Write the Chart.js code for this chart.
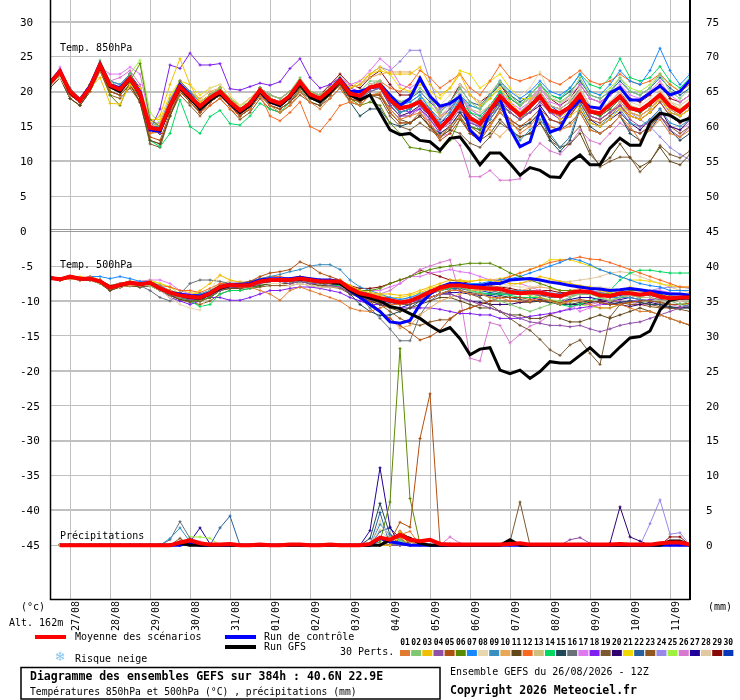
<!DOCTYPE html>
<html>
<head>
<meta charset="utf-8">
<script src="https://cdn.jsdelivr.net/npm/chart.js@4.4.1/dist/chart.umd.min.js"></script>
<style>
  html, body { margin: 0; padding: 0; background: #fff; }
  canvas { display: block; }
</style>
</head>
<body>
<canvas id="gefs" width="740" height="700"></canvas>
<script>
// GEFS ensemble, 26/08/2026 12Z, one step = 6h (65 steps = 384h)
const dayLabels = ["27/08","28/08","29/08","30/08","31/08","01/09","02/09","03/09","04/09","05/09","06/09","07/09","08/09","09/09","10/09","11/09"];
const dayIndex = [2,6,10,14,18,22,26,30,34,38,42,46,50,54,58,62];
const leftTicks = [30,25,20,15,10,5,0,-5,-10,-15,-20,-25,-30,-35,-40,-45];
const rainBase = -45; // 0 mm sits on the -45 line, right axis = left + 45

const pertColors = ["#e07b30","#80c870","#f0c000","#9050a8","#b05010","#5a8a00","#1888ff","#e8d8b0","#3890c0","#e8a858",
  "#604818","#f86820","#d0c080","#00d860","#204858","#687078","#e078f0","#8020f0","#7a5830","#300070",
  "#f0d800","#2860a0","#905820","#9888e8","#a0f040","#d878d0","#200098","#e0c8a0","#880808","#0838b8"];

// 850 hPa temperature (°C)
const mean850 = [21.2,22.9,20.0,18.7,20.6,23.8,20.9,20.3,21.9,19.7,14.8,14.6,18.0,20.7,19.3,17.9,19.1,20.0,18.5,17.3,18.3,20.2,18.8,18.3,19.4,21.4,19.6,19.0,20.2,21.6,19.7,19.4,20.6,20.9,18.8,17.6,17.9,18.5,16.9,14.8,16.2,18.2,16.2,15.4,17.3,19.3,17.9,16.6,17.9,19.3,17.3,16.9,17.8,19.5,17.1,16.9,18.1,19.3,17.6,17.3,18.3,19.5,17.9,17.1,18.3];
const ctrl850 = [21.3,23.0,20.0,18.8,20.8,24.0,21.0,20.5,22.0,20.0,14.5,14.3,18.0,21.0,19.5,17.5,18.8,20.0,18.3,17.0,18.0,20.0,18.5,18.0,19.3,21.3,19.3,18.8,20.0,21.8,20.0,20.0,20.5,21.0,19.5,18.0,19.0,21.9,19.3,17.9,18.3,19.3,14.5,13.0,17.3,19.0,14.7,12.1,12.8,17.3,14.2,14.7,17.3,18.8,17.8,17.6,19.8,20.6,18.8,18.8,19.8,20.8,19.5,20.0,21.6];
const gfs850 = [21.2,22.8,19.8,18.6,20.5,23.6,20.7,20.0,21.8,19.5,14.8,14.5,17.8,20.5,19.0,17.5,18.7,19.7,18.3,17.0,18.0,20.0,18.5,18.0,19.2,21.0,19.2,18.5,19.8,21.5,19.5,18.8,19.5,17.0,14.5,13.8,14.0,13.0,12.8,11.6,13.3,13.5,11.6,9.5,11.2,11.2,9.7,8.0,9.1,8.7,7.8,7.7,9.9,10.9,9.5,9.5,11.9,13.3,12.3,12.3,15.5,16.9,16.6,15.7,16.2];
const pert850 = [
  [21.0,22.5,19.5,18.5,20.5,23.0,20.5,20.0,21.5,19.5,14.0,14.2,17.5,20.0,19.0,17.5,18.5,19.5,18.0,16.8,17.5,19.5,18.0,17.0,18.0,20.0,18.5,17.5,19.0,20.5,18.5,18.0,19.5,19.8,17.5,16.0,16.5,17.0,15.5,13.5,15.0,16.5,14.5,13.5,15.0,17.0,16.0,14.0,15.0,17.0,15.0,14.5,15.0,17.0,14.5,14.0,15.0,16.5,15.0,13.0,14.5,16.0,14.0,13.5,14.5],
  [21.5,23.0,20.0,19.0,21.0,24.5,21.5,20.5,22.5,20.0,15.5,15.0,18.5,21.0,19.5,18.0,19.5,20.5,19.0,17.5,18.5,20.5,19.5,19.0,20.0,22.0,20.0,19.5,20.5,22.0,20.0,20.0,21.5,21.5,19.5,18.5,19.0,20.5,19.0,17.0,18.5,20.5,18.5,17.5,19.5,21.5,19.5,18.0,19.5,21.0,19.0,18.5,19.5,22.0,19.5,19.0,20.0,22.0,20.0,19.5,20.5,22.5,20.0,19.0,20.5],
  [21.0,22.5,20.0,18.5,20.5,22.0,18.3,18.2,21.0,19.5,15.5,16.5,21.0,24.7,21.0,18.5,19.5,20.5,19.0,17.5,18.5,20.5,19.0,18.5,19.5,21.5,20.0,19.0,20.0,22.0,20.5,21.0,22.5,23.5,22.5,22.5,22.5,23.5,21.0,19.5,20.5,22.5,19.5,18.0,19.0,20.5,18.5,17.0,18.0,19.5,17.5,16.0,16.5,17.5,15.5,15.0,16.0,17.5,16.5,16.0,17.0,19.0,17.0,16.5,17.5],
  [21.5,23.0,19.5,18.5,20.5,23.5,21.0,20.0,22.0,20.0,14.5,14.0,17.5,20.5,19.0,17.5,18.5,19.5,18.0,17.0,18.0,20.0,18.5,18.0,19.0,21.0,19.5,18.5,20.0,21.5,19.5,19.0,20.0,20.5,18.0,16.5,16.5,18.0,16.0,14.5,15.5,17.5,15.5,15.0,16.5,18.0,17.0,16.0,17.0,18.5,17.0,16.5,17.5,19.0,16.5,16.0,17.0,18.0,16.0,15.0,15.5,16.5,14.5,13.5,15.0],
  [21.0,22.5,19.5,18.5,20.0,23.0,20.0,19.5,21.0,19.0,13.5,13.0,17.0,20.0,18.5,17.0,18.5,19.5,18.0,16.5,17.5,19.5,18.0,17.5,18.5,20.5,19.0,18.5,19.5,21.0,19.0,18.5,19.5,19.5,17.0,15.5,15.5,17.0,15.0,13.0,14.0,16.0,14.0,13.0,15.0,17.5,16.0,15.0,16.0,17.5,16.0,15.5,16.5,18.5,16.0,15.5,16.5,18.0,16.5,16.0,17.0,18.5,16.5,15.5,16.5],
  [21.0,23.0,20.0,19.0,21.0,24.0,19.5,18.0,21.5,24.0,16.0,15.0,18.5,21.0,19.5,18.0,19.5,20.5,18.5,17.5,18.5,20.5,19.0,18.5,19.5,21.5,19.5,19.0,20.5,21.5,19.0,18.0,18.5,18.0,15.5,14.0,12.0,11.8,11.5,11.3,13.0,16.0,15.0,14.5,16.5,18.5,17.0,16.0,17.5,19.0,17.5,17.0,18.0,19.5,17.0,16.5,17.5,19.0,17.5,17.0,18.0,19.5,18.0,17.0,18.0],
  [21.5,23.0,20.0,18.5,20.5,23.5,21.0,20.5,22.0,20.0,15.0,15.0,18.0,21.0,19.5,18.0,19.0,20.0,18.5,17.5,18.5,20.5,19.0,18.5,19.5,21.5,20.0,19.0,20.5,22.0,20.0,19.5,20.5,21.0,19.0,18.0,18.5,19.5,17.5,15.5,17.0,19.5,18.0,17.5,19.5,21.5,20.0,19.0,20.0,21.5,20.0,19.5,20.5,22.5,20.0,19.5,21.0,23.0,21.5,21.0,23.0,26.2,23.0,21.0,22.5],
  [21.0,22.0,19.5,18.5,20.0,23.0,20.5,20.0,21.5,19.5,14.5,14.5,18.0,20.5,19.0,18.5,20.5,21.0,19.5,18.0,19.0,20.5,19.0,18.5,19.5,21.0,19.5,19.0,20.0,21.5,20.0,19.5,21.0,21.5,19.5,18.5,19.0,20.5,19.5,18.0,19.5,21.0,19.5,18.5,20.0,21.5,20.0,19.5,20.5,22.8,19.5,18.5,19.0,20.5,18.0,17.5,18.5,20.0,18.5,18.0,19.0,20.5,18.5,18.0,19.0],
  [21.5,23.0,20.0,19.0,20.5,23.5,21.5,21.0,22.5,20.0,15.0,14.5,18.0,21.0,20.0,18.5,19.5,20.0,18.5,17.5,18.5,20.0,18.5,18.0,19.5,21.0,19.5,19.0,20.0,21.5,19.5,19.0,20.5,21.0,18.5,17.0,17.5,19.0,17.0,15.0,16.5,19.0,16.0,14.5,16.0,18.0,15.0,13.0,14.5,16.0,14.0,12.0,13.5,18.0,15.5,15.0,16.5,17.5,15.5,15.0,16.0,17.5,15.5,15.0,16.0],
  [21.0,22.5,19.5,18.5,20.0,23.0,20.5,20.0,21.5,19.5,15.0,15.5,18.5,21.0,20.0,19.0,20.0,20.5,19.0,17.5,18.5,20.0,19.0,18.5,19.5,21.5,20.0,19.5,20.5,22.0,20.5,21.0,22.0,22.5,22.8,22.8,22.8,22.0,19.5,16.5,17.0,17.5,16.5,15.5,14.5,13.5,15.0,16.0,17.0,18.5,17.0,16.5,17.5,18.5,16.5,16.0,17.0,18.5,17.0,16.5,17.5,19.0,17.5,16.5,17.5],
  [20.5,22.0,19.0,18.0,20.0,23.0,20.0,19.5,21.0,18.5,13.0,12.5,16.5,20.0,18.5,17.0,18.5,19.5,18.0,16.5,17.5,19.5,18.0,17.5,18.5,20.0,18.5,18.0,19.5,21.0,19.0,18.5,19.5,19.5,17.5,16.0,15.5,16.5,15.0,13.5,14.5,16.5,14.0,13.0,14.0,16.0,14.5,13.5,14.0,15.5,13.5,12.0,12.5,14.0,11.0,9.5,10.5,12.5,10.5,9.2,10.0,12.0,10.0,9.5,11.0],
  [21.0,22.5,19.5,18.5,20.5,23.5,20.5,20.0,21.5,19.5,14.0,14.5,18.0,20.0,18.5,17.0,18.0,19.0,17.5,16.5,17.5,19.5,16.5,15.8,17.0,18.5,15.0,14.3,16.0,18.0,18.5,19.0,20.5,21.5,20.5,20.0,21.0,23.0,22.0,20.5,21.5,22.5,20.5,19.5,21.5,23.8,22.0,21.5,22.0,22.5,21.5,21.0,22.0,23.0,21.5,21.0,21.5,22.5,21.5,21.0,21.5,22.5,21.0,20.0,21.0],
  [21.0,22.5,20.0,19.0,20.5,23.5,21.0,20.5,22.0,20.0,15.0,14.5,18.0,20.5,19.0,17.5,18.5,19.5,18.5,17.5,18.0,20.0,19.0,18.5,19.5,21.0,19.5,19.0,20.0,21.5,19.5,19.0,20.5,21.0,19.0,18.0,18.0,18.5,17.0,15.5,17.0,19.0,17.5,17.0,18.0,19.5,18.0,17.0,18.5,20.0,18.0,17.5,18.5,20.0,17.5,17.0,18.0,19.5,18.0,17.5,18.5,20.0,18.5,17.5,18.5],
  [21.0,22.5,20.0,18.5,20.5,23.5,20.5,20.0,21.5,19.0,13.0,12.1,14.0,18.8,15.0,14.0,16.4,17.3,15.4,15.2,16.5,18.3,17.5,17.0,18.5,20.5,19.0,18.5,19.5,21.0,19.5,19.0,20.0,20.5,18.5,17.0,17.5,18.5,17.0,15.0,16.5,18.5,17.0,16.5,18.0,20.0,19.0,18.0,19.5,21.0,19.5,19.0,20.5,22.5,21.0,20.5,22.0,24.7,22.0,21.5,22.0,23.6,21.5,20.5,22.0],
  [21.0,22.5,19.5,18.5,20.5,23.0,20.5,20.0,21.5,19.5,14.5,14.0,17.5,20.5,19.5,18.0,19.0,19.5,18.0,17.0,18.0,19.5,18.5,18.0,19.0,20.5,19.0,18.5,19.5,21.0,18.5,16.5,17.5,17.5,15.5,15.0,15.5,16.5,15.0,14.0,15.0,17.0,15.0,14.5,16.0,18.0,16.0,15.0,15.5,17.0,13.0,11.4,13.0,17.5,15.0,14.0,15.0,16.5,14.0,13.0,14.5,16.5,14.5,13.0,14.0],
  [21.5,23.0,20.5,19.0,21.0,24.0,21.0,20.5,22.0,19.5,14.5,14.5,18.5,21.5,20.0,18.0,19.0,20.0,19.0,17.5,18.5,20.5,19.0,18.5,19.5,21.5,19.5,19.0,20.0,21.5,19.5,19.0,21.0,21.5,19.0,17.5,18.0,19.0,17.5,16.0,17.5,19.5,17.0,16.0,18.0,20.0,18.0,16.5,18.0,20.0,18.0,17.5,18.5,20.5,18.0,17.5,18.5,20.0,18.0,17.0,18.0,19.5,17.5,16.5,17.5],
  [21.0,23.5,20.0,18.5,21.0,23.5,22.5,22.5,23.5,22.5,16.0,15.0,18.5,21.0,19.5,18.0,19.5,20.5,19.0,17.5,18.5,20.5,19.5,19.0,20.0,21.5,20.0,19.5,20.5,22.0,21.0,21.5,23.0,24.7,23.5,21.0,20.5,21.5,19.0,16.5,17.5,19.5,17.5,16.5,18.0,20.0,18.5,17.5,18.5,20.5,18.5,18.0,19.5,21.0,19.0,18.5,19.5,21.0,19.5,19.0,20.0,21.5,19.5,18.5,19.5],
  [21.0,22.5,19.5,18.5,20.5,23.5,21.0,20.5,22.0,19.5,14.5,17.5,23.8,23.3,25.5,23.8,23.8,24.0,20.4,20.2,20.7,21.2,20.9,21.4,23.3,24.7,22.0,20.5,21.0,22.0,20.5,20.0,20.5,20.5,18.5,17.5,17.0,17.5,16.0,14.0,15.0,17.0,15.5,15.0,16.5,18.5,17.5,16.5,17.0,18.5,17.0,16.0,17.0,18.5,16.5,16.0,17.0,18.0,16.5,16.0,17.0,18.5,16.5,15.5,16.5],
  [20.5,22.0,19.0,18.0,20.0,23.0,20.0,19.5,21.0,18.5,12.5,12.0,16.5,20.0,18.5,17.0,18.5,19.5,18.0,16.5,17.5,19.5,18.0,17.5,18.5,20.0,19.0,18.5,19.5,21.0,19.5,18.5,19.5,19.0,16.5,15.0,14.5,15.5,14.5,13.5,14.5,14.0,12.6,12.0,13.5,15.5,14.5,13.5,14.0,15.5,13.0,12.0,13.5,15.0,11.5,9.2,10.0,10.6,10.6,8.5,9.9,12.3,11.0,10.5,11.5],
  [21.0,22.5,20.0,18.5,20.5,23.5,21.0,20.5,22.5,20.0,14.5,14.0,17.5,20.5,19.0,17.5,19.0,20.0,18.5,17.0,18.0,20.0,18.5,18.0,19.5,21.5,19.5,19.0,20.0,21.5,19.5,19.0,20.5,20.5,18.0,16.5,17.0,18.0,16.5,15.5,16.5,18.5,16.0,15.5,17.0,18.5,17.0,16.0,17.0,18.0,16.0,15.5,16.5,18.5,16.0,15.0,16.0,17.0,15.5,14.5,16.0,17.5,15.0,14.5,16.0],
  [21.0,23.0,20.0,19.0,21.0,24.0,21.0,20.5,22.0,20.5,16.0,16.0,19.5,21.5,21.0,19.5,20.5,21.0,19.5,18.0,19.0,20.5,19.5,19.0,20.0,21.5,20.0,19.5,20.5,22.0,20.5,21.5,22.5,23.0,22.5,20.5,20.0,21.0,20.0,19.0,20.5,23.0,22.5,20.5,21.5,22.5,20.5,19.0,19.0,19.5,17.5,16.5,17.0,18.0,16.5,16.0,17.0,18.0,17.0,16.5,17.5,19.0,18.0,17.5,18.5],
  [21.5,23.0,20.0,19.0,21.0,24.0,21.5,21.0,22.5,20.0,15.0,15.0,18.5,21.0,19.5,18.0,19.5,20.5,19.0,17.5,18.5,20.5,19.5,19.0,20.0,21.5,20.0,19.5,20.5,22.0,20.0,19.5,21.0,21.5,19.5,18.5,19.0,20.0,18.5,17.0,18.5,20.5,18.5,18.0,19.5,21.0,19.5,18.5,19.5,21.0,19.5,19.0,20.0,21.5,19.5,19.0,20.0,21.5,20.0,19.5,20.5,22.0,20.5,19.5,20.5],
  [20.5,22.0,19.0,18.0,20.0,23.0,19.5,19.0,20.5,18.5,13.0,12.5,16.5,19.5,18.0,16.5,18.0,19.0,17.5,16.0,17.0,19.0,17.5,17.0,18.0,19.5,18.5,18.0,19.0,20.5,18.5,18.0,19.5,19.5,17.0,15.5,15.5,16.5,15.0,13.5,15.0,17.0,15.0,14.0,15.5,17.0,15.5,14.5,15.5,17.0,15.0,14.5,15.5,17.0,14.5,14.0,15.0,16.5,14.5,14.0,15.0,16.5,15.0,14.0,15.0],
  [21.0,22.5,20.0,18.5,20.5,23.5,21.0,20.5,22.0,20.0,15.5,15.5,19.0,21.0,19.5,18.0,19.5,20.5,19.0,17.5,18.5,20.5,19.0,18.5,19.5,21.5,20.0,19.5,20.5,22.0,20.5,21.0,22.5,23.5,23.0,24.3,25.9,25.9,21.5,17.5,18.0,19.5,17.5,16.5,18.0,20.0,18.0,17.0,18.5,20.0,18.0,17.5,18.5,20.0,17.5,17.0,18.0,19.0,17.0,16.0,15.0,13.5,12.0,11.0,10.2],
  [21.5,23.0,20.0,19.0,21.0,24.0,21.0,20.5,22.5,24.5,17.0,15.5,19.0,21.5,20.0,18.5,19.5,20.5,19.0,18.0,18.5,20.5,19.5,19.0,20.0,21.5,20.0,19.5,20.5,22.0,20.0,19.5,20.5,21.0,19.5,18.5,18.5,19.5,18.0,16.5,17.5,19.5,18.0,17.5,19.0,21.0,19.5,18.5,19.5,21.0,19.5,19.0,20.0,21.5,20.0,19.5,20.5,22.0,20.5,20.0,21.0,22.5,21.0,20.0,21.0],
  [21.0,22.5,20.0,18.5,20.5,23.5,21.5,22.0,23.0,21.0,15.0,15.0,18.5,21.0,19.5,18.0,19.0,20.0,18.5,17.0,18.0,20.0,18.5,18.0,19.0,21.0,19.5,19.0,20.0,21.5,19.5,19.0,20.0,20.5,18.0,16.5,16.5,17.5,15.5,13.5,14.0,12.3,7.8,7.8,8.7,7.3,7.3,7.5,10.9,12.6,11.5,11.0,12.5,14.5,13.0,12.5,14.0,15.5,14.5,14.0,15.0,16.5,15.0,14.5,15.5],
  [21.5,23.0,20.0,18.5,20.5,23.5,21.0,20.5,22.0,20.0,14.5,14.0,17.5,20.5,19.0,17.5,19.0,20.0,18.5,17.5,18.5,20.0,19.0,18.5,19.5,21.0,19.5,19.0,20.5,22.0,20.0,19.5,20.5,21.0,18.5,17.0,17.5,18.5,16.5,14.5,16.0,18.0,16.0,15.5,17.5,19.5,18.0,17.0,18.0,19.5,17.5,17.0,17.5,19.0,16.5,16.0,17.0,18.5,17.0,16.5,17.5,19.0,17.0,16.5,17.5],
  [21.0,22.5,20.0,18.5,20.5,23.0,20.5,20.0,21.5,19.5,14.5,14.5,18.0,20.5,19.5,18.0,19.5,20.5,19.0,17.5,18.5,20.0,19.0,18.5,19.5,21.5,20.0,19.5,20.5,22.0,20.0,19.5,20.5,21.0,19.0,18.0,18.5,19.5,18.0,16.5,18.0,20.0,18.0,17.5,19.0,21.0,19.5,18.0,19.0,20.5,19.0,18.5,19.0,20.0,17.5,17.0,18.0,19.5,18.0,17.5,18.5,20.0,18.5,18.0,19.0],
  [21.5,23.0,20.0,19.0,21.0,24.0,21.0,20.5,22.5,20.5,15.0,15.0,18.5,21.5,20.0,18.5,19.5,20.5,19.0,18.0,19.0,20.5,19.5,19.0,20.0,21.5,20.0,19.5,21.0,22.5,21.0,20.5,22.0,23.0,21.0,19.5,19.5,21.5,19.5,17.5,18.5,21.0,19.5,18.5,19.5,21.0,19.0,18.0,19.0,20.5,19.0,18.0,19.0,21.0,19.0,18.5,19.5,20.5,19.0,18.5,19.5,21.0,19.0,18.5,19.5],
  [21.5,23.0,20.0,19.0,21.0,24.0,21.0,20.5,22.0,20.0,15.0,14.5,18.0,21.0,19.5,18.0,19.5,20.0,18.5,17.5,18.5,20.5,19.0,18.5,19.5,21.5,19.5,19.0,20.0,21.5,19.5,19.0,20.5,21.0,18.5,17.0,17.5,18.5,17.0,15.0,16.5,18.5,16.5,15.5,17.5,19.5,18.0,17.0,18.5,20.0,18.0,17.0,18.0,19.5,17.0,16.5,17.5,19.0,17.5,17.0,18.0,19.5,18.0,17.0,18.0]
];

// 500 hPa temperature (°C)
const mean500 = [-6.7,-6.9,-6.5,-6.8,-6.8,-7.2,-8.1,-7.7,-7.4,-7.6,-7.4,-8.2,-8.8,-9.2,-9.4,-9.5,-8.9,-8.0,-7.7,-7.8,-7.7,-7.2,-7.0,-7.0,-7.0,-6.8,-7.0,-7.2,-7.2,-7.2,-8.2,-8.9,-9.2,-9.6,-9.9,-10.2,-10.0,-9.4,-8.7,-8.1,-7.8,-7.8,-8.0,-8.1,-8.2,-8.3,-8.7,-8.9,-8.8,-8.8,-9.1,-9.3,-8.8,-8.6,-8.7,-9.2,-9.3,-8.9,-8.9,-9.1,-8.9,-9.4,-9.6,-9.5,-9.5];
const ctrl500 = [-6.7,-6.9,-6.5,-6.8,-6.8,-7.2,-8.0,-7.7,-7.4,-7.6,-7.4,-8.2,-8.8,-9.0,-9.2,-9.3,-8.8,-8.0,-7.6,-7.6,-7.5,-7.0,-6.8,-6.8,-6.8,-6.6,-6.8,-7.0,-7.0,-7.2,-8.5,-9.5,-10.5,-11.5,-13.0,-13.2,-12.8,-10.5,-9.0,-8.0,-7.5,-7.5,-7.8,-7.8,-7.5,-7.5,-7.0,-6.9,-6.8,-7.0,-7.3,-7.5,-7.8,-8.0,-8.2,-8.3,-8.5,-8.4,-8.2,-8.4,-8.6,-8.8,-9.0,-9.0,-9.2];
const gfs500 = [-6.7,-6.9,-6.5,-6.8,-6.8,-7.2,-8.0,-7.8,-7.4,-7.6,-7.4,-8.2,-8.8,-9.2,-9.5,-9.6,-9.0,-8.2,-7.8,-7.8,-7.7,-7.2,-7.0,-7.0,-7.0,-6.9,-7.0,-7.3,-7.3,-7.5,-8.5,-9.2,-9.6,-10.0,-10.8,-11.1,-11.8,-12.5,-13.5,-14.4,-13.8,-15.4,-17.7,-16.9,-16.7,-19.9,-20.4,-19.9,-21.1,-20.1,-18.7,-18.9,-18.9,-17.8,-16.7,-18.0,-18.0,-16.6,-15.3,-15.1,-14.3,-11.3,-9.9,-9.6,-9.4];
const pert500 = [
  [-6.5,-7.0,-6.8,-7.0,-6.5,-7.0,-8.0,-7.5,-7.2,-7.8,-7.2,-8.0,-8.5,-9.0,-9.5,-9.8,-9.0,-8.2,-7.8,-8.0,-8.0,-8.5,-9.0,-9.9,-8.5,-8.0,-8.5,-9.0,-9.5,-10.0,-11.0,-11.4,-11.5,-11.0,-10.5,-10.5,-10.0,-9.5,-9.5,-9.0,-8.5,-8.5,-9.0,-9.0,-9.5,-9.5,-10.0,-10.0,-10.0,-9.5,-10.0,-10.5,-10.0,-10.0,-10.5,-11.0,-11.0,-10.5,-11.0,-11.5,-11.5,-12.0,-12.5,-13.0,-13.4],
  [-6.8,-7.0,-6.5,-6.8,-7.0,-7.5,-8.2,-7.8,-7.5,-7.5,-7.8,-8.5,-9.0,-9.5,-9.5,-9.2,-8.5,-7.8,-7.5,-7.5,-7.5,-7.0,-6.8,-7.0,-7.2,-7.0,-7.2,-7.5,-7.5,-7.5,-8.5,-9.0,-9.0,-9.5,-9.8,-10.5,-10.0,-9.0,-8.5,-8.0,-7.5,-8.0,-8.5,-9.0,-9.5,-10.0,-10.5,-11.0,-11.5,-11.0,-10.5,-10.0,-9.5,-9.0,-9.0,-9.5,-10.0,-9.5,-9.0,-9.5,-9.0,-9.5,-10.0,-10.5,-10.0],
  [-6.5,-6.8,-6.5,-6.5,-6.8,-7.0,-7.8,-7.5,-7.2,-7.5,-7.2,-8.0,-8.5,-9.0,-9.2,-8.5,-7.5,-6.3,-7.0,-7.3,-7.5,-7.0,-6.8,-6.8,-6.8,-6.5,-6.8,-7.0,-7.0,-7.0,-7.8,-8.5,-8.8,-9.0,-9.0,-9.2,-9.0,-8.5,-8.0,-7.5,-7.0,-7.0,-7.2,-7.0,-7.0,-7.2,-7.5,-7.5,-7.0,-6.5,-6.8,-7.2,-7.5,-7.8,-8.0,-8.5,-8.8,-8.5,-8.0,-8.5,-9.0,-9.5,-9.2,-9.0,-9.2],
  [-6.8,-7.0,-6.5,-6.8,-6.8,-7.2,-8.2,-7.8,-7.5,-7.8,-7.5,-8.5,-9.0,-9.5,-9.8,-9.8,-9.2,-8.5,-8.0,-8.0,-8.0,-7.5,-7.2,-7.2,-7.5,-7.2,-7.5,-7.5,-7.8,-8.0,-8.8,-9.5,-9.8,-10.0,-10.5,-10.5,-10.2,-9.8,-9.5,-9.0,-9.0,-9.5,-10.0,-10.5,-11.0,-11.5,-12.0,-12.5,-13.0,-13.2,-13.5,-13.5,-13.7,-13.5,-14.0,-14.4,-14.0,-13.5,-13.2,-13.0,-12.5,-12.0,-11.5,-11.0,-10.5],
  [-6.7,-7.0,-6.5,-6.8,-6.8,-7.2,-8.0,-7.8,-7.5,-7.5,-7.5,-8.2,-9.0,-9.5,-9.5,-9.5,-8.8,-7.8,-7.5,-7.5,-7.2,-6.5,-6.0,-5.8,-5.5,-4.4,-5.0,-6.0,-6.5,-7.0,-8.0,-9.0,-10.0,-11.5,-12.5,-13.5,-14.5,-15.6,-15.1,-14.2,-12.5,-11.5,-11.0,-10.5,-10.0,-9.5,-9.5,-9.5,-9.8,-10.0,-10.0,-10.2,-10.0,-9.8,-10.0,-10.2,-10.5,-10.5,-10.2,-10.0,-10.0,-10.2,-10.5,-10.5,-10.3],
  [-6.5,-6.8,-6.5,-6.8,-6.8,-7.0,-8.0,-7.5,-7.2,-7.5,-7.2,-8.0,-8.8,-9.5,-9.8,-10.0,-9.5,-8.5,-8.0,-7.8,-7.8,-7.5,-7.0,-7.0,-7.0,-6.8,-7.0,-7.2,-7.2,-7.5,-8.0,-8.5,-8.5,-8.2,-7.5,-7.0,-6.5,-6.0,-5.5,-5.2,-5.0,-4.8,-4.6,-4.6,-4.6,-5.2,-6.0,-6.5,-7.0,-7.5,-8.0,-8.5,-8.5,-8.5,-8.8,-9.0,-9.0,-8.8,-8.5,-8.5,-8.8,-9.0,-9.5,-9.5,-9.5],
  [-6.8,-6.8,-6.5,-6.8,-6.5,-6.5,-6.8,-6.5,-6.8,-7.2,-7.2,-8.0,-8.5,-9.0,-9.2,-9.0,-8.5,-7.8,-7.5,-7.5,-7.5,-7.0,-6.8,-6.8,-6.8,-6.5,-6.8,-7.0,-7.0,-7.2,-8.0,-8.5,-9.0,-9.5,-9.5,-9.8,-9.5,-9.0,-8.5,-8.0,-7.8,-7.5,-7.5,-7.5,-7.2,-7.0,-6.8,-6.5,-6.0,-5.5,-5.0,-4.5,-3.9,-4.2,-4.8,-5.5,-6.0,-6.5,-7.0,-7.5,-7.8,-8.0,-8.5,-8.5,-8.5],
  [-6.5,-7.0,-6.8,-7.0,-6.8,-7.0,-7.8,-7.8,-7.5,-7.8,-7.8,-8.5,-9.5,-10.5,-11.0,-11.3,-8.5,-6.3,-7.0,-7.5,-7.8,-7.5,-7.5,-7.5,-7.8,-7.5,-7.8,-8.0,-8.0,-8.0,-8.5,-8.8,-9.0,-9.5,-9.5,-9.8,-9.5,-9.0,-8.5,-8.0,-7.5,-7.5,-7.5,-7.8,-7.5,-7.5,-7.8,-8.0,-8.0,-7.8,-7.5,-7.5,-7.5,-7.8,-8.0,-8.0,-8.2,-8.5,-8.5,-8.8,-9.0,-9.5,-10.0,-10.0,-10.0],
  [-6.5,-6.8,-6.5,-6.8,-6.8,-7.0,-7.8,-7.5,-7.2,-7.5,-7.2,-7.8,-8.5,-9.0,-9.2,-9.2,-8.8,-8.0,-7.5,-7.5,-7.2,-6.8,-6.5,-6.2,-5.8,-5.5,-5.0,-4.8,-4.8,-5.5,-7.0,-8.0,-8.5,-9.0,-9.5,-9.8,-9.5,-9.0,-8.5,-8.0,-7.5,-7.5,-7.8,-8.0,-8.0,-8.2,-8.5,-8.5,-8.5,-8.8,-9.0,-9.0,-8.8,-8.5,-8.5,-9.0,-9.5,-9.5,-9.5,-9.8,-10.0,-10.2,-10.5,-10.5,-10.8],
  [-6.8,-7.0,-6.8,-7.0,-7.0,-7.5,-8.2,-8.0,-7.8,-7.8,-7.5,-8.2,-8.8,-9.2,-9.5,-9.5,-9.0,-8.0,-7.8,-7.8,-7.8,-7.2,-7.0,-7.0,-7.0,-6.8,-7.0,-7.2,-7.5,-7.5,-8.5,-9.5,-10.5,-11.5,-12.5,-13.9,-13.5,-12.0,-11.0,-10.0,-9.5,-9.0,-8.5,-8.5,-8.5,-8.2,-8.5,-8.5,-8.2,-8.0,-8.2,-8.5,-8.5,-8.2,-8.0,-8.5,-8.8,-8.5,-8.5,-8.8,-9.0,-9.2,-9.5,-9.5,-9.5],
  [-6.8,-7.0,-6.8,-7.0,-7.0,-7.5,-8.5,-8.0,-7.8,-8.0,-7.8,-8.5,-9.2,-9.8,-10.0,-10.0,-9.5,-8.5,-8.2,-8.2,-8.0,-7.8,-7.5,-7.5,-7.5,-7.2,-7.5,-7.8,-7.8,-8.0,-8.8,-9.5,-10.0,-10.5,-11.0,-11.5,-11.0,-10.5,-10.0,-9.5,-9.5,-10.0,-10.5,-11.0,-11.0,-11.5,-12.0,-12.0,-12.5,-12.5,-12.0,-12.5,-13.0,-13.0,-12.5,-12.0,-12.5,-12.0,-11.5,-11.0,-11.5,-12.0,-12.5,-13.0,-13.5],
  [-6.7,-7.0,-6.5,-6.8,-6.8,-7.2,-8.0,-7.5,-7.2,-7.5,-7.2,-7.8,-8.0,-8.5,-8.5,-8.8,-8.2,-7.5,-7.5,-7.5,-7.2,-6.8,-6.5,-6.5,-6.8,-6.5,-6.8,-7.0,-7.0,-7.0,-7.8,-8.5,-9.0,-9.5,-10.0,-10.5,-10.2,-9.5,-9.0,-8.5,-8.0,-7.8,-8.0,-8.0,-7.5,-7.0,-6.5,-6.0,-5.5,-5.0,-4.5,-4.2,-4.0,-3.7,-4.0,-4.1,-4.5,-5.0,-5.5,-6.0,-6.5,-7.0,-7.5,-8.0,-8.0],
  [-6.7,-6.8,-6.5,-6.8,-6.8,-7.2,-8.0,-7.8,-7.5,-7.5,-7.5,-8.2,-8.8,-9.2,-9.5,-9.5,-9.0,-8.0,-7.8,-7.8,-7.8,-7.2,-7.0,-7.2,-7.2,-7.0,-7.2,-7.2,-7.5,-7.5,-8.2,-8.8,-9.2,-9.5,-9.8,-10.0,-9.8,-9.2,-8.8,-8.2,-8.0,-8.0,-8.2,-8.2,-8.5,-8.5,-8.8,-9.0,-9.0,-9.0,-9.2,-9.5,-9.2,-9.0,-9.0,-9.5,-9.8,-9.5,-9.2,-9.5,-9.5,-10.0,-10.0,-10.0,-10.0],
  [-6.7,-7.0,-6.8,-7.0,-6.8,-7.2,-8.2,-7.8,-7.5,-7.8,-7.5,-8.5,-9.0,-9.5,-10.0,-10.8,-10.5,-9.0,-8.5,-8.5,-8.2,-7.8,-7.5,-7.5,-7.5,-7.2,-7.5,-7.5,-7.8,-7.8,-8.5,-9.2,-9.5,-9.8,-10.0,-10.5,-10.0,-9.5,-9.0,-8.5,-8.2,-8.0,-8.5,-8.8,-9.0,-9.0,-9.2,-9.5,-9.5,-9.5,-10.0,-10.5,-10.8,-10.5,-10.0,-9.5,-8.5,-7.0,-6.0,-5.6,-5.6,-5.8,-6.0,-6.0,-6.0],
  [-6.7,-7.0,-6.5,-6.8,-6.8,-7.2,-8.0,-7.8,-7.5,-7.5,-7.5,-8.2,-9.0,-9.5,-9.8,-9.8,-9.2,-8.2,-8.0,-8.0,-7.8,-7.5,-7.2,-7.2,-7.2,-7.0,-7.2,-7.5,-7.5,-7.8,-9.0,-10.5,-11.5,-12.1,-12.0,-11.5,-11.0,-10.0,-9.5,-9.0,-8.5,-8.5,-8.8,-9.0,-9.0,-9.2,-9.5,-9.8,-10.0,-10.0,-10.2,-10.5,-10.5,-10.2,-10.0,-10.2,-10.5,-10.2,-10.0,-10.2,-10.5,-10.5,-10.8,-11.0,-11.0],
  [-6.7,-7.0,-6.5,-6.8,-6.8,-7.2,-8.0,-7.8,-7.5,-7.8,-8.5,-9.5,-10.0,-9.0,-7.5,-7.0,-7.0,-7.2,-7.5,-7.8,-7.8,-7.5,-7.2,-7.2,-7.0,-7.0,-7.2,-7.5,-7.5,-7.5,-8.2,-9.5,-11.0,-12.5,-14.0,-15.7,-15.7,-12.0,-10.0,-9.0,-8.5,-8.2,-8.5,-8.5,-8.5,-8.8,-9.0,-9.0,-9.0,-9.2,-9.5,-9.5,-9.2,-9.0,-9.0,-9.2,-9.5,-9.5,-9.2,-9.5,-9.5,-9.8,-10.0,-10.0,-10.0],
  [-6.7,-6.8,-6.5,-6.8,-6.8,-7.2,-7.8,-7.5,-7.2,-7.2,-7.0,-7.0,-7.5,-8.5,-9.0,-9.2,-8.8,-8.0,-7.8,-7.8,-7.5,-7.0,-6.8,-6.8,-6.8,-6.5,-6.8,-7.0,-7.0,-7.2,-8.0,-8.5,-8.5,-8.5,-8.0,-7.5,-6.5,-6.5,-6.0,-5.8,-5.5,-5.8,-6.0,-6.5,-7.0,-7.0,-7.5,-7.5,-8.0,-8.5,-9.0,-9.5,-10.5,-11.5,-11.0,-10.5,-10.0,-9.5,-9.0,-8.5,-8.5,-8.5,-8.8,-9.0,-9.0],
  [-6.7,-7.0,-6.5,-6.8,-6.8,-7.2,-8.0,-7.8,-7.5,-7.5,-7.5,-8.5,-9.5,-10.0,-10.5,-10.0,-9.5,-9.5,-9.9,-9.9,-9.5,-9.0,-8.5,-8.5,-8.2,-8.0,-8.0,-8.2,-8.5,-8.8,-9.5,-10.0,-10.5,-10.5,-10.8,-11.0,-11.0,-11.0,-11.0,-11.2,-11.5,-11.8,-11.8,-12.0,-12.0,-12.5,-12.5,-12.5,-12.2,-12.0,-11.8,-11.5,-11.2,-11.0,-10.8,-10.5,-10.5,-10.2,-10.0,-10.0,-9.8,-9.8,-10.0,-10.0,-10.0],
  [-6.8,-7.0,-6.8,-7.0,-7.0,-7.5,-8.5,-8.0,-7.8,-8.0,-7.8,-8.5,-9.2,-9.8,-10.0,-10.0,-9.5,-8.5,-8.2,-8.2,-8.0,-7.8,-7.5,-7.5,-7.5,-7.2,-7.5,-7.8,-8.0,-8.0,-8.8,-9.5,-10.0,-10.2,-10.5,-10.5,-10.5,-10.0,-9.5,-9.0,-8.5,-8.5,-9.0,-9.5,-10.5,-11.5,-12.5,-13.5,-14.2,-15.5,-17.0,-17.8,-16.3,-15.6,-17.5,-19.1,-12.3,-10.5,-10.0,-10.2,-10.5,-10.8,-11.0,-11.2,-11.5],
  [-6.7,-7.0,-6.5,-6.8,-6.8,-7.2,-8.2,-8.0,-7.8,-7.8,-7.5,-8.2,-8.8,-9.2,-9.5,-9.8,-9.5,-8.5,-8.0,-8.0,-8.0,-7.5,-7.2,-7.2,-7.2,-7.0,-7.2,-7.5,-7.5,-7.8,-8.5,-9.0,-9.5,-10.0,-10.2,-10.5,-10.2,-9.8,-9.5,-9.0,-9.0,-9.5,-10.0,-10.2,-10.5,-10.5,-10.5,-10.2,-10.0,-10.0,-10.2,-10.5,-10.5,-10.5,-10.2,-10.0,-10.2,-10.5,-10.8,-10.5,-10.2,-10.5,-11.0,-11.0,-10.8],
  [-6.5,-6.8,-6.5,-6.8,-6.5,-7.0,-7.8,-7.5,-7.2,-7.2,-7.0,-7.5,-8.0,-8.5,-8.8,-9.0,-8.5,-7.8,-7.5,-7.5,-7.5,-7.0,-6.8,-6.8,-6.8,-6.5,-6.8,-7.0,-7.0,-7.2,-8.0,-8.5,-9.0,-9.2,-9.5,-9.5,-9.2,-8.8,-8.2,-7.8,-7.5,-7.2,-7.2,-7.0,-7.0,-6.8,-6.5,-6.0,-5.5,-5.0,-4.1,-4.1,-4.1,-4.5,-5.0,-5.5,-6.0,-6.5,-7.0,-7.0,-7.2,-7.5,-7.8,-8.0,-8.0],
  [-6.7,-6.8,-6.5,-6.8,-6.8,-7.0,-7.8,-7.5,-7.2,-7.5,-7.2,-8.0,-8.5,-9.0,-9.5,-9.5,-8.8,-7.8,-7.5,-7.5,-7.5,-7.0,-6.8,-6.8,-6.8,-6.5,-6.8,-7.0,-7.2,-7.2,-8.0,-8.8,-9.2,-9.5,-10.0,-10.2,-10.0,-9.5,-9.0,-8.5,-8.2,-8.0,-8.0,-8.2,-8.2,-8.5,-8.5,-8.8,-8.8,-8.8,-9.0,-9.2,-9.0,-8.8,-8.8,-9.0,-9.2,-9.0,-8.8,-9.0,-9.0,-9.2,-9.5,-9.5,-9.5],
  [-6.8,-7.0,-6.8,-7.0,-7.0,-7.5,-8.5,-8.0,-7.8,-8.0,-7.8,-8.5,-9.2,-9.8,-10.2,-10.5,-10.0,-9.0,-8.5,-8.5,-8.2,-8.0,-7.8,-7.8,-7.8,-7.5,-7.8,-8.0,-8.0,-8.2,-9.0,-9.5,-10.0,-10.5,-11.5,-12.5,-13.2,-13.5,-13.0,-12.7,-12.7,-11.5,-11.0,-10.5,-10.0,-10.0,-10.0,-10.2,-10.2,-10.0,-10.0,-10.2,-10.5,-10.5,-10.2,-10.0,-10.0,-10.2,-10.5,-10.5,-10.8,-11.0,-11.0,-11.0,-11.0],
  [-6.7,-6.8,-6.5,-6.8,-6.8,-7.2,-8.0,-7.8,-7.5,-7.5,-7.5,-8.2,-8.8,-9.2,-9.5,-9.5,-9.0,-8.0,-7.8,-7.8,-7.8,-7.2,-7.0,-7.0,-7.0,-6.8,-7.0,-7.2,-7.2,-7.2,-8.0,-8.8,-9.2,-9.5,-9.8,-10.0,-9.8,-9.2,-8.8,-8.2,-8.0,-7.8,-7.8,-8.0,-8.0,-8.2,-8.5,-8.5,-8.5,-8.5,-8.8,-9.0,-8.8,-8.5,-8.5,-8.8,-9.0,-8.8,-8.5,-8.5,-8.5,-8.2,-8.0,-8.0,-8.2],
  [-6.5,-6.8,-6.5,-6.8,-6.8,-7.0,-7.8,-7.5,-7.2,-7.5,-7.2,-7.5,-8.0,-9.0,-9.5,-9.5,-9.0,-8.0,-7.8,-7.8,-7.5,-7.0,-6.8,-6.8,-6.8,-6.8,-7.0,-7.2,-7.2,-7.5,-8.2,-9.0,-9.5,-10.0,-10.5,-10.5,-10.0,-9.5,-9.0,-8.5,-8.0,-8.0,-8.2,-8.5,-8.5,-8.8,-9.0,-9.0,-9.2,-9.5,-9.8,-10.0,-10.2,-10.5,-10.8,-11.0,-11.0,-10.5,-10.2,-10.0,-10.0,-10.2,-10.5,-10.5,-10.5],
  [-6.7,-7.0,-6.5,-6.8,-6.8,-7.2,-8.0,-7.8,-7.5,-7.8,-7.5,-8.2,-8.8,-9.2,-9.5,-9.5,-9.0,-8.0,-7.8,-7.8,-7.8,-7.2,-7.0,-7.0,-7.2,-7.0,-7.2,-7.5,-7.5,-7.5,-8.2,-8.8,-9.0,-9.0,-8.5,-7.5,-6.5,-5.5,-5.0,-4.5,-4.1,-9.2,-18.2,-18.6,-13.1,-13.5,-16.0,-14.8,-13.6,-13.0,-12.0,-11.5,-11.0,-10.5,-10.5,-10.2,-10.0,-10.0,-10.2,-10.5,-10.5,-10.5,-10.5,-10.8,-11.0],
  [-6.7,-7.0,-6.5,-6.8,-6.8,-7.2,-8.2,-7.8,-7.5,-7.8,-7.5,-8.5,-9.2,-9.5,-9.8,-9.8,-9.2,-8.2,-8.0,-8.0,-7.8,-7.5,-7.2,-7.2,-7.2,-7.0,-7.2,-7.5,-7.5,-7.8,-8.5,-9.2,-9.8,-10.2,-10.8,-11.0,-10.5,-10.0,-9.5,-9.0,-8.8,-8.8,-9.0,-9.2,-9.2,-9.5,-9.5,-9.5,-9.5,-9.8,-10.0,-10.0,-9.8,-9.5,-9.5,-9.8,-10.0,-9.8,-9.5,-9.8,-10.0,-10.2,-10.5,-10.5,-10.5],
  [-6.5,-6.8,-6.5,-6.8,-6.8,-7.2,-7.8,-7.5,-7.2,-7.5,-7.2,-8.0,-8.5,-9.0,-9.2,-9.2,-8.5,-7.5,-7.2,-7.2,-7.2,-7.0,-6.8,-6.8,-6.8,-6.5,-6.8,-7.0,-7.0,-7.2,-8.0,-8.8,-9.2,-9.5,-9.8,-10.0,-9.8,-9.2,-8.5,-8.0,-7.8,-7.8,-7.8,-7.8,-8.0,-8.0,-7.8,-7.5,-7.2,-7.0,-7.0,-7.2,-7.2,-7.0,-6.8,-6.5,-6.0,-5.8,-6.0,-6.5,-7.0,-7.5,-8.0,-8.5,-8.8],
  [-6.7,-6.8,-6.5,-6.8,-6.8,-7.0,-7.8,-7.5,-7.2,-7.5,-7.2,-8.0,-8.5,-9.0,-9.2,-9.2,-8.8,-7.8,-7.5,-7.5,-7.5,-7.0,-6.8,-6.8,-6.8,-6.5,-6.8,-7.0,-7.0,-7.2,-7.8,-8.2,-8.2,-8.0,-7.5,-7.0,-6.5,-5.6,-6.0,-6.5,-7.0,-7.2,-7.5,-7.5,-7.8,-8.0,-8.2,-8.5,-8.5,-8.5,-8.5,-8.8,-8.8,-8.5,-8.5,-8.8,-9.0,-8.8,-8.5,-8.8,-9.0,-9.2,-9.5,-9.5,-9.5],
  [-6.7,-7.0,-6.5,-6.8,-6.8,-7.2,-8.0,-7.8,-7.5,-7.5,-7.5,-8.2,-8.8,-9.2,-9.5,-9.5,-9.0,-8.0,-7.8,-7.8,-7.8,-7.2,-7.0,-7.0,-7.0,-6.8,-7.0,-7.2,-7.2,-7.5,-8.2,-8.8,-9.2,-9.8,-10.0,-10.2,-10.0,-9.5,-9.0,-8.5,-8.2,-8.2,-8.5,-8.5,-8.8,-9.0,-9.0,-9.0,-9.0,-9.2,-9.2,-9.5,-9.2,-9.0,-9.0,-9.2,-9.5,-9.2,-9.0,-9.2,-9.2,-9.5,-9.8,-9.8,-9.8]
];

// 6-hourly precipitation (mm), first value is the analysis (no rain line)
const meanRain = [null,0,0,0,0,0,0,0,0,0,0,0,0,0.4,0.7,0.3,0.1,0.1,0.2,0,0,0.1,0,0,0.1,0.1,0,0,0.1,0,0,0,0.2,1.1,0.8,1.5,0.8,0.6,0.8,0.2,0.1,0.1,0.1,0.1,0.1,0.1,0.2,0.3,0.1,0.1,0.1,0.1,0.1,0.1,0.1,0.1,0.1,0.2,0.1,0.1,0.1,0.3,0.4,0.4,0.1];
// rainy steps only as [step, mm]; every other step is 0 mm
const ctrlRain = [[14,0.4],[33,1.0],[34,0.5],[35,0.3]];
const gfsRain = [[13,0.3],[34,0.8],[35,1.5],[36,1.0],[37,0.3],[46,0.8],[62,0.6],[63,0.6]];
const pertRain = [
  [[14,0.3],[34,0.8],[35,1.5],[36,2.0]],
  [[34,1.2],[35,0.8]],
  [[35,1.8],[36,1.0]],
  [[13,0.5],[52,0.8],[53,1.1],[54,0.3]],
  [[34,0.5],[35,3.3],[36,2.6],[37,15.3],[38,21.7],[39,0.3]],
  [[33,0.5],[34,6.2],[35,28.2],[36,6.7],[37,0.2]],
  [[14,0.3],[34,0.5]],
  [[33,3.5],[34,1.0]],
  [[12,1.0],[13,2.5],[14,0.5],[33,3.0],[34,1.5]],
  [[35,2.0],[36,0.5]],
  [[14,0.8],[36,0.5]],
  [[35,1.0]],
  [[34,0.6]],
  [[13,0.5],[35,0.7]],
  [[32,1.0],[33,6.0],[34,1.5]],
  [[12,0.8],[13,3.4],[14,1.0],[34,0.5]],
  [[14,1.0],[15,0.5],[40,0.3]],
  [[34,1.5],[35,0.8]],
  [[13,1.0],[35,2.0],[46,0.5],[47,6.2]],
  [[56,0.3],[57,5.5],[58,1.2],[59,0.6]],
  [[35,1.3]],
  [[17,2.5],[18,4.2],[33,4.7]],
  [[35,2.0],[36,1.0]],
  [[60,3.1],[61,6.5],[62,1.6],[63,1.8]],
  [[14,1.2],[15,1.2],[16,1.0]],
  [[40,1.2],[41,0.3]],
  [[14,0.5],[15,2.5],[16,0.2],[32,2.1],[33,11.1],[34,2.6]],
  [[33,2.2],[34,0.8]],
  [[62,1.2],[63,1.2]],
  [[33,2.0],[34,2.5],[35,1.0]]
];

const STEPS = 65;
function rainSteps(pairs) {
  const out = new Array(STEPS).fill(0);
  out[0] = null;
  pairs.forEach(([s, mm]) => { out[s] = mm; });
  return out;
}
function toPoints(values, shift) {
  return values.map((v, i) => ({ x: i, y: v === null ? null : v + shift }));
}
function mainLine(values, shift, color, width) {
  return { data: toPoints(values, shift), borderColor: color, borderWidth: width, pointRadius: 0, tension: 0 };
}
function pertLine(values, shift, color) {
  return {
    data: toPoints(values, shift), borderColor: color, borderWidth: 1, tension: 0,
    pointStyle: 'cross', pointRadius: 1.5, pointBorderWidth: 1, pointBorderColor: color, pointBackgroundColor: color
  };
}

// first datasets are drawn last (on top)
const datasets = [
  mainLine(mean850, 0, '#ff0000', 4), mainLine(mean500, 0, '#ff0000', 4), mainLine(meanRain, rainBase, '#ff0000', 4),
  mainLine(gfs850, 0, '#000000', 3), mainLine(gfs500, 0, '#000000', 3), mainLine(rainSteps(gfsRain), rainBase, '#000000', 3),
  mainLine(ctrl850, 0, '#0000ff', 3), mainLine(ctrl500, 0, '#0000ff', 3), mainLine(rainSteps(ctrlRain), rainBase, '#0000ff', 3)
];
pertColors.forEach((c, k) => {
  datasets.push(pertLine(pert850[k], 0, c));
  datasets.push(pertLine(pert500[k], 0, c));
  datasets.push(pertLine(rainSteps(pertRain[k]), rainBase, c));
});

const MONO = '"DejaVu Sans Mono", monospace';

const decor = {
  id: 'decor',
  afterDraw(chart) {
    const { ctx, chartArea: a, scales: { x, y } } = chart;
    ctx.save();

    // double line between the two panels
    const y0 = Math.round(y.getPixelForValue(0));
    ctx.strokeStyle = '#9a9a9a';
    ctx.lineWidth = 1;
    ctx.beginPath();
    ctx.moveTo(a.left, y0 - 1.5); ctx.lineTo(a.right, y0 - 1.5);
    ctx.moveTo(a.left, y0 + 0.5); ctx.lineTo(a.right, y0 + 0.5);
    ctx.stroke();

    // frame
    ctx.strokeStyle = '#000';
    ctx.lineWidth = 1.5;
    ctx.beginPath();
    ctx.moveTo(a.left + 0.5, a.top); ctx.lineTo(a.left + 0.5, a.bottom + 0.5);
    ctx.lineTo(a.right, a.bottom + 0.5);
    ctx.stroke();
    ctx.lineWidth = 2;
    ctx.beginPath();
    ctx.moveTo(a.right, a.top); ctx.lineTo(a.right, a.bottom + 1);
    ctx.stroke();

    ctx.fillStyle = '#000';
    ctx.textBaseline = 'middle';
    ctx.textAlign = 'left';

    // axis numbers, right axis = left + 45
    ctx.font = '11px ' + MONO;
    leftTicks.forEach(v => {
      const py = y.getPixelForValue(v) + 1;
      ctx.fillText(String(v), 20, py);
      ctx.fillText(String(v + 45), 706, py);
    });

    // dates, rotated
    ctx.font = '10px ' + MONO;
    dayIndex.forEach((d, k) => {
      ctx.save();
      ctx.translate(x.getPixelForValue(d) + 6, a.bottom + 2);
      ctx.rotate(-Math.PI / 2);
      ctx.textAlign = 'right';
      ctx.fillText(dayLabels[k], 0, 0);
      ctx.restore();
    });

    // panel names
    ctx.fillText('Temp. 850hPa', 60, 48);
    ctx.fillText('Temp. 500hPa', 60, 265);
    ctx.fillText('Précipitations', 60, 536);

    ctx.fillText('(°c)', 21, 607);
    ctx.fillText('(mm)', 708, 607);
    ctx.fillText('Alt. 162m', 9, 623);

    // legend
    ctx.lineWidth = 4;
    [['#ff0000', 35, 637], ['#0000ff', 225, 637], ['#000000', 225, 647]].forEach(([c, lx, ly]) => {
      ctx.strokeStyle = c;
      ctx.beginPath(); ctx.moveTo(lx, ly); ctx.lineTo(lx + 31, ly); ctx.stroke();
    });
    ctx.fillText('Moyenne des scénarios', 75, 637);
    ctx.fillText('Run de contrôle', 264, 637);
    ctx.fillText('Run GFS', 264, 647);
    ctx.fillText('30 Perts.', 340, 652);
    ctx.fillText('Risque neige', 75, 659);

    ctx.fillStyle = '#8cc4ec';
    ctx.font = '13px "DejaVu Sans", sans-serif';
    ctx.textAlign = 'center';
    ctx.fillText('❄', 60, 658);

    // member colour keys
    ctx.font = 'bold 8px ' + MONO;
    pertColors.forEach((c, k) => {
      const sx = 400 + k * 11.15;
      ctx.fillStyle = c;
      ctx.fillRect(sx, 650, 10, 6);
      ctx.fillStyle = '#000';
      ctx.fillText(String(k + 1).padStart(2, '0'), sx + 5, 643);
    });

    // title box
    ctx.textAlign = 'left';
    ctx.strokeStyle = '#000';
    ctx.lineWidth = 1.5;
    ctx.strokeRect(21, 667.5, 419, 31.5);
    ctx.font = 'bold 11.5px ' + MONO;
    ctx.fillText('Diagramme des ensembles GEFS sur 384h : 40.6N 22.9E', 30, 677);
    ctx.font = '9.7px ' + MONO;
    ctx.fillText('Températures 850hPa et 500hPa (°C) , précipitations (mm)', 30, 692);
    ctx.font = '10px ' + MONO;
    ctx.fillText('Ensemble GEFS du 26/08/2026 - 12Z', 450, 672);
    ctx.font = 'bold 11.5px ' + MONO;
    ctx.fillText('Copyright 2026 Meteociel.fr', 450, 691);

    ctx.restore();
  }
};

new Chart(document.getElementById('gefs'), {
  type: 'line',
  data: { datasets: datasets },
  options: {
    responsive: false,
    animation: false,
    devicePixelRatio: 1,
    events: [],
    layout: { autoPadding: false, padding: { left: 50, right: 50, top: 0, bottom: 101 } },
    plugins: { legend: { display: false }, tooltip: { enabled: false } },
    scales: {
      x: {
        type: 'linear', min: 0, max: STEPS - 1,
        afterBuildTicks: s => { s.ticks = dayIndex.map(v => ({ value: v })); },
        afterFit: s => { s.height = 0; },
        ticks: { display: false },
        grid: { color: '#c0c0c0', lineWidth: 1, drawTicks: false },
        border: { display: false }
      },
      y: {
        type: 'linear', min: -52.69, max: 33.11,
        afterBuildTicks: s => { s.ticks = leftTicks.map(v => ({ value: v })); },
        afterFit: s => { s.width = 0; },
        ticks: { display: false },
        grid: {
          drawTicks: false,
          color: c => (c.tick && c.tick.value === 0) ? 'rgba(0,0,0,0)' : '#c0c0c0',
          lineWidth: c => (c.tick && c.tick.value % 10 === 0) ? 2 : 1
        },
        border: { display: false }
      }
    }
  },
  plugins: [decor]
});
</script>
</body>
</html>
